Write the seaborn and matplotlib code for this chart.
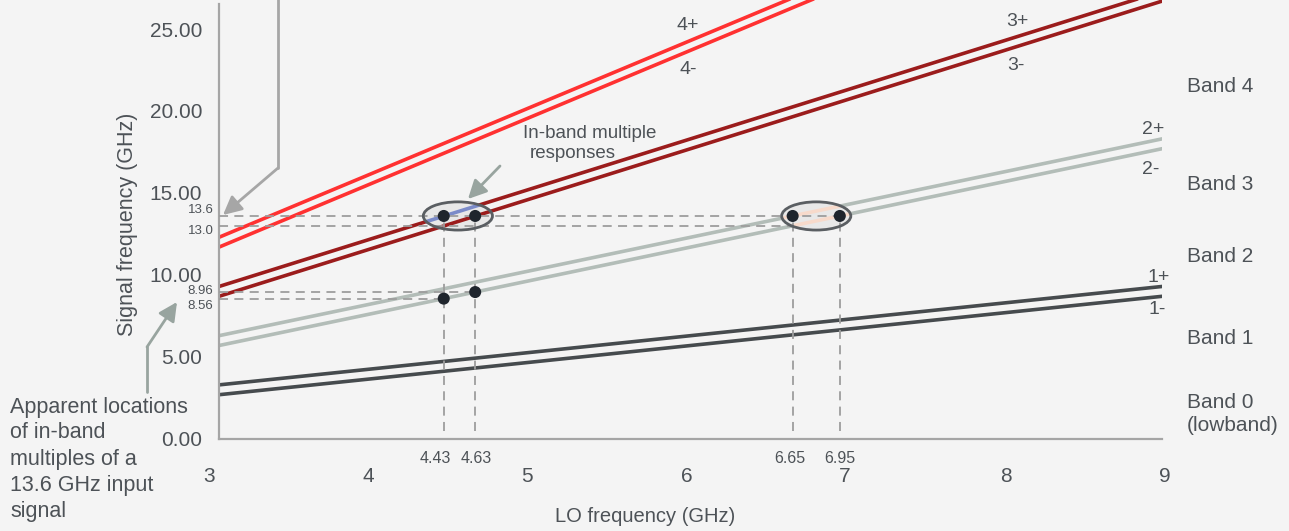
import matplotlib
import matplotlib.pyplot as plt
from matplotlib.patches import Ellipse
from matplotlib.lines import Line2D
from matplotlib.transforms import ScaledTranslation
import pandas as pd
import seaborn as sns

matplotlib.use('Agg')

# Mixer responses n*LO +/- IF, values read at both ends of the LO axis
lo_ends = [3, 9]
resp_names = ['4+', '4-', '3+', '3-', '2+', '2-', '1+', '1-']
resp_start = [12.3, 11.7, 9.3, 8.7, 6.3, 5.7, 3.3, 2.7]
resp_end = [36.3, 35.7, 27.3, 26.7, 18.3, 17.7, 9.3, 8.7]
resp_colors = ['#ff3131', '#ff3131', '#9b1c1c', '#9b1c1c',
               '#b3bdb8', '#b3bdb8', '#464b4e', '#464b4e']

y_ticks = [0, 5, 10, 15, 20, 25]
x_ticks = [3, 3.5, 4, 4.5, 5, 5.5, 6, 6.5, 7, 7.5, 8, 8.5, 9]
x_tick_labels = ['3', '', '4', '', '5', '', '6', '', '7', '', '8', '', '9']

# points where a 13.6 GHz input shows up
hit_lo = [4.43, 4.63, 6.65, 6.95, 4.43, 4.63]
hit_sig = [13.6, 13.6, 13.6, 13.6, 8.56, 8.96]

y_marks = [13.6, 13.0, 8.96, 8.56]
y_mark_labels = ['13.6', '13.0', '8.96', '8.56']
y_mark_ends = [6.95, 6.65, 4.63, 4.43]
x_marks = [4.43, 4.63, 6.65, 6.95]
x_mark_labels = ['4.43', '4.63', '6.65', '6.95']

band_names = ['Band 4', 'Band 3', 'Band 2', 'Band 1', 'Band 0\n(lowband)']
note_lines = ['Apparent locations', 'of in-band', 'multiples of a',
              '13.6 GHz input', 'signal']

BG = '#f4f4f4'
TXT = '#4d5257'
AXC = '#a5a5a5'
W, H = 1289, 531

sns.set_theme(style='white')
plt.rcParams['font.family'] = ['Liberation Sans', 'DejaVu Sans']


def fx(px):
    return px / W


def fy(py):
    return 1 - py / H


fig = plt.figure(figsize=(W / 100, H / 100), dpi=100, facecolor=BG)
ax = fig.add_axes([fx(219), fy(439), (1162 - 219) / W, 439 / H])
ax.set_facecolor(BG)

rows = []
for name, a, b in zip(resp_names, resp_start, resp_end):
    rows.append((name, lo_ends[0], a))
    rows.append((name, lo_ends[1], b))
df = pd.DataFrame(rows, columns=['resp', 'lo', 'sig'])
sns.lineplot(data=df, x='lo', y='sig', hue='resp', hue_order=resp_names,
             palette=dict(zip(resp_names, resp_colors)), lw=2.6,
             legend=False, ax=ax, zorder=2)

ax.set_xlim(3, 9)
ax.set_ylim(0, 439 / 16.4)

# ellipses round the in-band multiples, with the lines inside recoloured
ell_specs = [((4.52, 13.6), {'3+': '#7b8bc9', '3-': '#9b1c1c'}),
             ((6.80, 13.6), {'2+': '#f7dacb', '2-': '#f7dacb'})]
for center, hl in ell_specs:
    fill = Ellipse(center, 0.44, 1.72, facecolor='#e8e8e8', edgecolor='none', zorder=3)
    ax.add_patch(fill)
    for name, col in hl.items():
        i = resp_names.index(name)
        ln, = ax.plot(lo_ends, [resp_start[i], resp_end[i]], color=col, lw=2.6, zorder=3.2)
        ln.set_clip_path(fill)
    ax.add_patch(Ellipse(center, 0.44, 1.72, facecolor='none',
                         edgecolor='#5a5e62', lw=2, zorder=4.5))

dash = dict(color='#9d9d9d', lw=1.3, ls=(0, (5, 3.5)), zorder=4)
for y, end in zip(y_marks, y_mark_ends):
    ax.plot([3, end], [y, y], **dash)
for x in x_marks:
    ax.plot([x, x], [0.5, 13.6], **dash)

sns.scatterplot(x=hit_lo, y=hit_sig, color='#1f252d', s=75, edgecolor='none',
                zorder=6, ax=ax, legend=False)

# small labels for the guide lines
for y, lbl, dy in zip(y_marks, y_mark_labels, [4, -4, 0.5, -5]):
    ax.annotate(lbl, xy=(3, y), xytext=(-4, dy), textcoords='offset points',
                ha='right', va='center', fontsize=9.5, color=TXT, annotation_clip=False)
for x, lbl, dx in zip(x_marks, x_mark_labels, [-6, 1, -2, 0]):
    ax.annotate(lbl, xy=(x, 0), xytext=(dx, -14), textcoords='offset points',
                ha='center', va='center', fontsize=11.5, color=TXT, annotation_clip=False)

ax.set_xticks(x_ticks)
ax.set_xticklabels(x_tick_labels)
ax.set_yticks(y_ticks)
ax.set_yticklabels([f'{v:.2f}' for v in y_ticks])
ax.tick_params(axis='x', length=6, width=1.3, color=AXC, pad=14,
               labelsize=15, labelcolor=TXT)
ax.tick_params(axis='y', length=7, width=1.3, color=AXC, pad=5,
               labelsize=15, labelcolor=TXT)
# the integer labels sit a little left of their ticks in the original
for lbl, dx in zip(ax.get_xticklabels(), [-10, 0, -8, 0, -6, 0, -4, 0, -3, 0, 1, 0, 3]):
    lbl.set_transform(lbl.get_transform() + ScaledTranslation(dx / 100, 0, fig.dpi_scale_trans))
ax.set_xlabel('')
ax.set_ylabel('')
sns.despine(ax=ax)
for s in ['left', 'bottom']:
    ax.spines[s].set_color(AXC)
    ax.spines[s].set_linewidth(1.6)
ax.spines['left'].set_bounds(0, 26.5)

fig.text(fx(128), fy(224), 'Signal frequency (GHz)', rotation=90,
         ha='center', va='center', fontsize=15.5, color=TXT)
fig.text(fx(645), fy(516), 'LO frequency (GHz)', ha='center', va='center',
         fontsize=14.5, color=TXT)

# response labels
resp_pos = [(688, 25), (688, 70), (1017, 22), (1016, 66),
            (1153, 129), (1151, 169), (1159, 277), (1157, 310)]
for name, (px, py) in zip(resp_names, resp_pos):
    fig.text(fx(px), fy(py), name, ha='center', va='center', fontsize=14, color=TXT)

band_py = [86, 184, 257, 339, 414]
for name, py in zip(band_names, band_py):
    fig.text(fx(1187), fy(py), name, ha='left', va='center', fontsize=15,
             color=TXT, linespacing=1.3)

fig.text(fx(523), fy(133), 'In-band multiple', ha='left', va='center',
         fontsize=13.5, color=TXT)
fig.text(fx(530), fy(154), 'responses', ha='left', va='center',
         fontsize=13.5, color=TXT)
for line, py in zip(note_lines, [407, 433, 459, 485, 511]):
    fig.text(fx(10), fy(py), line, ha='left', va='center', fontsize=15.5, color=TXT)


def pointer(points, color):
    xs = [fx(p[0]) for p in points[:-1]]
    ys = [fy(p[1]) for p in points[:-1]]
    fig.add_artist(Line2D(xs, ys, transform=fig.transFigure, color=color, lw=2))
    (x0, y0), (x1, y1) = points[-2], points[-1]
    ax.annotate('', xy=(x1, H - y1), xycoords='figure pixels',
                xytext=(x0, H - y0), textcoords='figure pixels',
                arrowprops=dict(arrowstyle='-|>,head_length=0.8,head_width=0.4',
                                color=color, lw=2, shrinkA=0, shrinkB=0,
                                mutation_scale=14),
                annotation_clip=False)


pointer([(278, -5), (278, 168), (223, 215)], '#a6a6a6')
pointer([(147, 392), (147, 347), (177, 302)], '#98a49f')
pointer([(500, 166), (468, 199)], '#98a49f')

fig.savefig('out.png', dpi=100, facecolor=BG)
